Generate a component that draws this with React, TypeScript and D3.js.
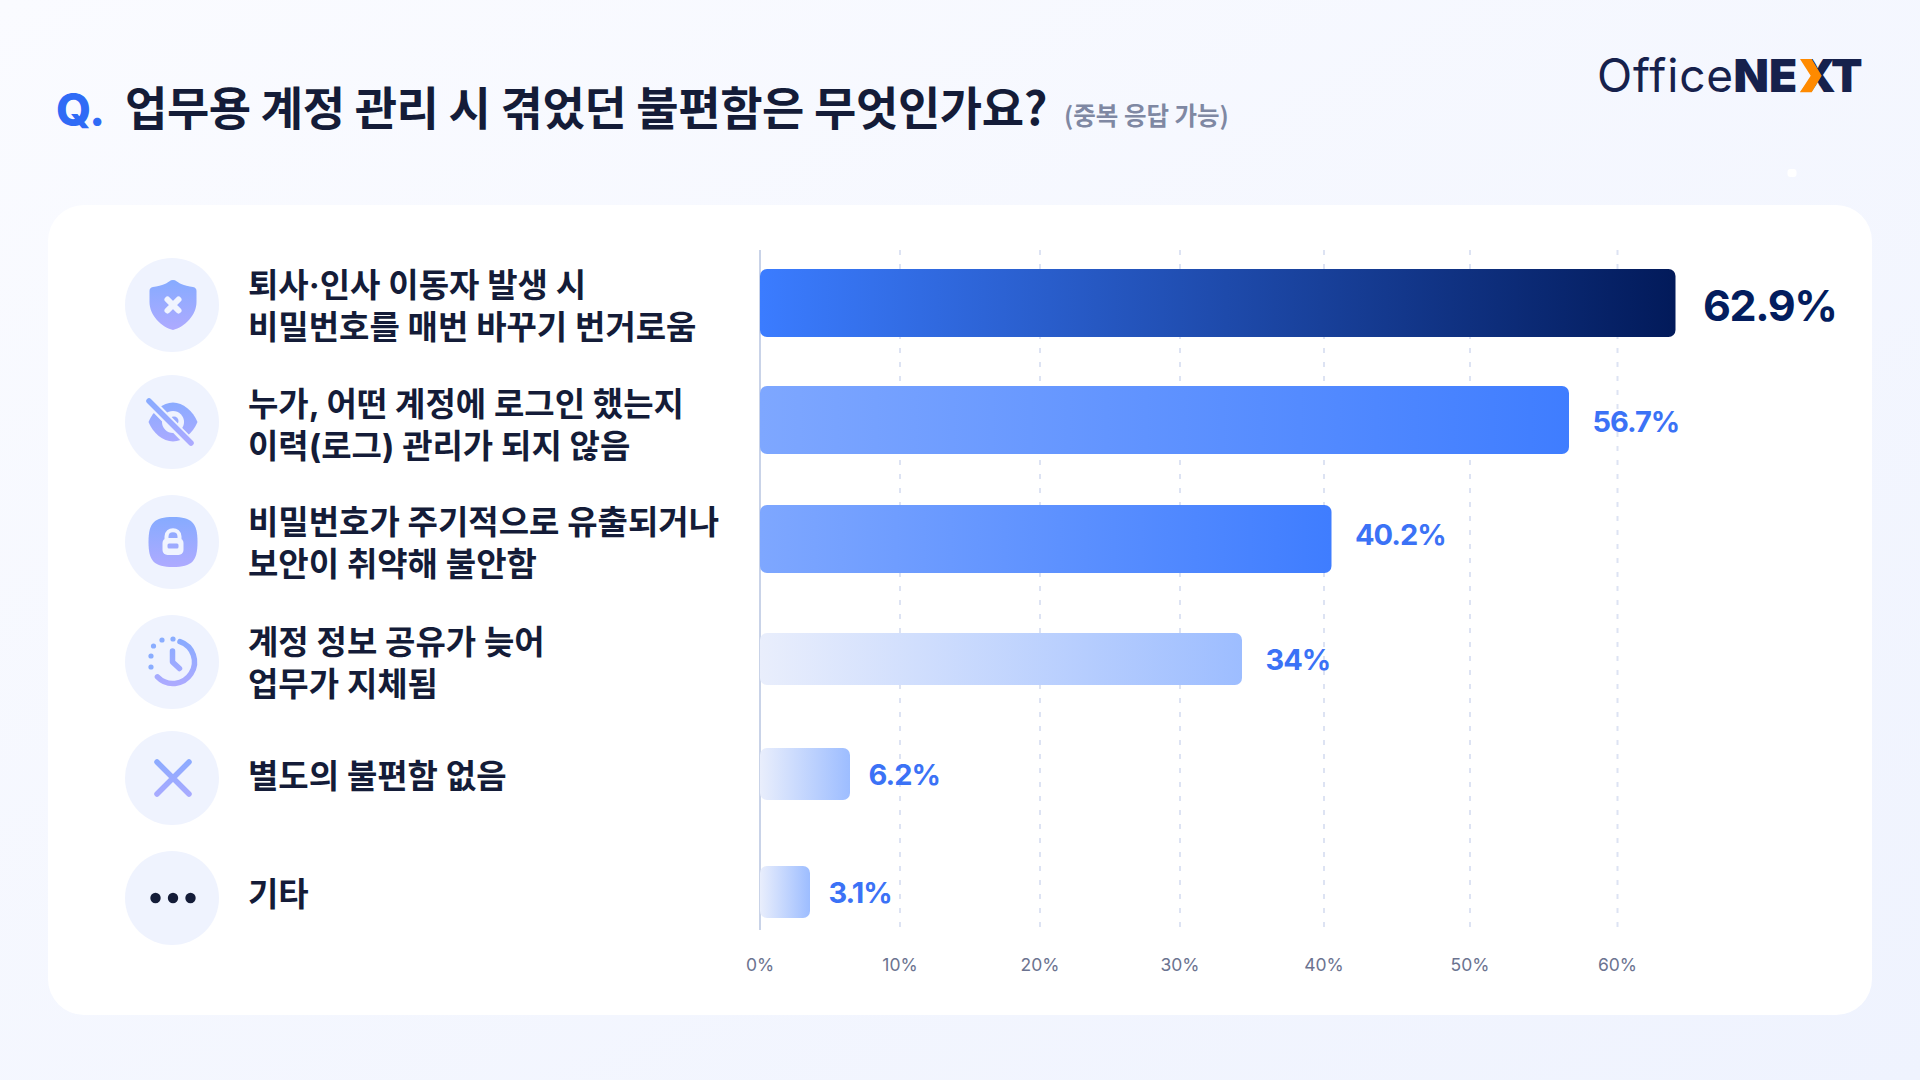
import * as d3 from "d3";

const categories = ["shield", "eye", "lock", "clock", "none", "etc"];
const labelLines = [
  ["퇴사·인사 이동자 발생 시", "비밀번호를 매번 바꾸기 번거로움"],
  ["누가, 어떤 계정에 로그인 했는지", "이력(로그) 관리가 되지 않음"],
  ["비밀번호가 주기적으로 유출되거나", "보안이 취약해 불안함"],
  ["계정 정보 공유가 늦어", "업무가 지체됨"],
  ["별도의 불편함 없음"],
  ["기타"],
];
const values = [62.9, 56.7, 40.2, 34, 6.2, 3.1];
const valueLabels = ["62.9%", "56.7%", "40.2%", "34%", "6.2%", "3.1%"];
const axisTicks = [0, 10, 20, 30, 40, 50, 60];

const WIDTH = 1920;
const HEIGHT = 1080;
const FONT = "Inter, 'Noto Sans CJK KR', sans-serif";
const KR = "'Noto Sans CJK KR', sans-serif";
const INK = "#141c38";

// the source axis is not evenly spaced, so the scale has to follow its stops
const x = d3
  .scaleLinear()
  .domain([0, 3.1, 6.2, 10, 20, 30, 34, 40, 40.2, 50, 56.7, 60, 62.9])
  .range([760, 810, 850, 900, 1040, 1180, 1242, 1324, 1331.5, 1470, 1569, 1617.5, 1675.5]);

const rowBar = d3.scaleOrdinal<string, number>().domain(categories).range([303, 420, 539, 659, 774, 892]);
const rowIcon = d3.scaleOrdinal<string, number>().domain(categories).range([305, 422, 542, 662, 778, 898]);
const rowText = d3.scaleOrdinal<string, number>().domain(categories).range([306, 425, 543.5, 663.5, 776, 894]);
const rowValue = d3.scaleOrdinal<string, number>().domain(categories).range([302, 420.5, 534, 659, 774, 891.5]);
const barHeight = d3.scaleOrdinal<string, number>().domain(categories).range([68, 68, 68, 52, 52, 52]);
const barFill = d3.scaleOrdinal<string, string>().domain(categories).range(["url(#barA)", "url(#barB)", "url(#barB)", "url(#barC)", "url(#barC)", "url(#barC)"]);

const clockArc = d3.arc()({ innerRadius: 21.5, outerRadius: 21.5, startAngle: 0.33, endAngle: 3.95 } as any) as string;
const clockDots = [
  [0, -23],
  [-11, -22],
  [-19.5, -16],
  [-22, -6],
  [-22, 5],
];

function Icon({ name }: { name: string }) {
  const grad = "url(#icon)";
  if (name === "shield") {
    return (
      <g>
        <path
          d="M0,-25 C3,-25 4,-23 7,-21.5 C11,-19.5 16,-18.5 20,-18 C22.5,-17.6 23.5,-16 23.5,-14 L23.5,-3 C23.5,10 12,22 0,25 C-12,22 -23.5,10 -23.5,-3 L-23.5,-14 C-23.5,-16 -22.5,-17.6 -20,-18 C-16,-18.5 -11,-19.5 -7,-21.5 C-4,-23 -3,-25 0,-25 Z"
          fill={grad}
        />
        <path d="M-5.5,-5.5 L5.5,5.5 M5.5,-5.5 L-5.5,5.5" stroke="#f0f4ff" strokeWidth={6} strokeLinecap="round" />
      </g>
    );
  }
  if (name === "eye") {
    return (
      <g>
        <path d="M-24.5,0 C-20,-11 -10,-19.5 0,-19.5 C10,-19.5 20,-11 24.5,0 C20,11 10,19.5 0,19.5 C-10,19.5 -20,11 -24.5,0 Z" fill={grad} />
        <circle r={11} fill="#eff3fe" />
        <circle r={4.5} cx={1} cy={-1} fill={grad} />
        <path d="M-21,-18 L18,22" stroke="#eff3fe" strokeWidth={10} strokeLinecap="round" />
        <path d="M-24,-21 L18,21" stroke={grad} strokeWidth={5.5} strokeLinecap="round" />
      </g>
    );
  }
  if (name === "lock") {
    return (
      <g>
        <path d="M0,-25 C19,-25 24.5,-19 24.5,0 C24.5,19 19,25 0,25 C-19,25 -24.5,19 -24.5,0 C-24.5,-19 -19,-25 0,-25 Z" fill={grad} />
        <path d="M-6.5,-3 L-6.5,-5.5 C-6.5,-14 6.5,-14 6.5,-5.5 L6.5,-3" fill="none" stroke="#f0f4ff" strokeWidth={4} />
        <rect x={-10.5} y={-4} width={21} height={17} rx={5} fill="#f0f4ff" />
        <rect x={-5.5} y={1.5} width={11} height={5} rx={1.5} fill={grad} />
        <circle cy={-7} r={2} fill={grad} />
      </g>
    );
  }
  if (name === "clock") {
    return (
      <g fill="none" stroke={grad} strokeWidth={5.5} strokeLinecap="round" strokeLinejoin="round">
        <path d={clockArc} />
        <path d="M-0.5,-11 L-0.5,0 L6.5,6.5" />
        {clockDots.map(([dx, dy], i) => (
          <circle key={i} cx={dx} cy={dy} r={2.6} fill="#8aadff" stroke="none" />
        ))}
      </g>
    );
  }
  if (name === "none") {
    return <path d="M-16,-16 L16,16 M16,-16 L-16,16" stroke={grad} strokeWidth={5.5} strokeLinecap="round" fill="none" />;
  }
  return (
    <g fill={INK}>
      <circle cx={-17.5} r={5.2} />
      <circle r={5.2} />
      <circle cx={17.5} r={5.2} />
    </g>
  );
}

export default function App() {
  return (
    <svg width={WIDTH} height={HEIGHT} style={{ position: "absolute", left: 0, top: 0, display: "block" }}>
      <defs>
        <linearGradient id="page" x1="0" y1="0" x2="1" y2="1">
          <stop offset="0" stopColor="#fafbff" />
          <stop offset="1" stopColor="#eff3fe" />
        </linearGradient>
        <linearGradient id="barA">
          <stop offset="0" stopColor="#3b7cff" />
          <stop offset="1" stopColor="#021a5a" />
        </linearGradient>
        <linearGradient id="barB">
          <stop offset="0" stopColor="#7ea7ff" />
          <stop offset="1" stopColor="#3f7dff" />
        </linearGradient>
        <linearGradient id="barC">
          <stop offset="0" stopColor="#e9eefc" />
          <stop offset="1" stopColor="#9dbdff" />
        </linearGradient>
        <linearGradient id="icon" gradientUnits="userSpaceOnUse" x1="0" y1="-25" x2="0" y2="25">
          <stop offset="0" stopColor="#86abff" />
          <stop offset="1" stopColor="#aeaaff" />
        </linearGradient>
      </defs>

      <rect width={WIDTH} height={HEIGHT} fill="url(#page)" />
      <rect x={1787.5} y={169} width={9} height={8} rx={3} fill="#fff" />
      <rect x={48} y={205} width={1824} height={810} rx={36} fill="#fff" />

      {/* title */}
      <text x={56} y={126} fontFamily={FONT} fontSize={45} fontWeight={800} fill="#2f6bf6">
        Q.
      </text>
      <text x={125} y={125} fontFamily={KR} fontSize={46} fontWeight={700} letterSpacing={-0.4} fill={INK}>
        업무용 계정 관리 시 겪었던 불편함은 무엇인가요?
      </text>
      <text x={1064} y={125} fontFamily={KR} fontSize={24.5} fontWeight={700} fill="#7f88a3">
        (중복 응답 가능)
      </text>

      {/* logo */}
      <g fontFamily={FONT} fontSize={46} fill="#16214c">
        <text x={1597} y={92} fontWeight={400} letterSpacing={0.9}>
          Office
        </text>
        <text x="1733.5 1769 1799.5 1831" y={92} fontWeight={900}>
          NEXT
        </text>
      </g>
      <polygon
        points="1800,59 1811.7,59 1821.7,75.7 1811.7,92.3 1800,92.3 1810.7,75.7"
        fill="#ff8a00"
      />

      {/* grid */}
      {axisTicks.slice(1).map((t) => (
        <line key={t} x1={x(t)} x2={x(t)} y1={250} y2={930} stroke="#dde3f3" strokeWidth={2} strokeDasharray="5 9" />
      ))}
      <line x1={x(0)} x2={x(0)} y1={250} y2={930} stroke="#c9d3e8" strokeWidth={2} />
      {axisTicks.map((t) => (
        <text key={t} x={x(t)} y={971} textAnchor="middle" fontFamily={FONT} fontSize={17.5} fill="#6b7390">
          {t}%
        </text>
      ))}

      {categories.map((c, i) => {
        const lines = labelLines[i];
        const h = barHeight(c);
        const big = i === 0;
        const gap = values[i] < 10 ? 18.5 : big ? 27.5 : 23.5;
        return (
          <g key={c}>
            <circle cx={172} cy={rowIcon(c)} r={47} fill="#eff3fe" />
            <g transform={`translate(173,${rowIcon(c)})`}>
              <Icon name={c} />
            </g>
            <text fontFamily={FONT} fontSize={33} fontWeight={700} fill={INK}>
              {lines.map((line, j) => (
                <tspan key={j} x={248} y={rowText(c) + (j - (lines.length - 1) / 2) * 42 + 11.5}>
                  {line}
                </tspan>
              ))}
            </text>
            <rect x={x(0)} y={rowBar(c) - h / 2} width={x(values[i]) - x(0)} height={h} rx={7} fill={barFill(c)} />
            <text
              x={x(values[i]) + gap}
              y={rowValue(c)}
              dy={big ? 19 : 11}
              fontFamily={FONT}
              fontSize={big ? 43 : 29}
              fontWeight={700}
              letterSpacing={big ? -1.4 : -1}
              fill={big ? "#031d5e" : "#3b72f6"}
            >
              {valueLabels[i]}
            </text>
          </g>
        );
      })}
    </svg>
  );
}
